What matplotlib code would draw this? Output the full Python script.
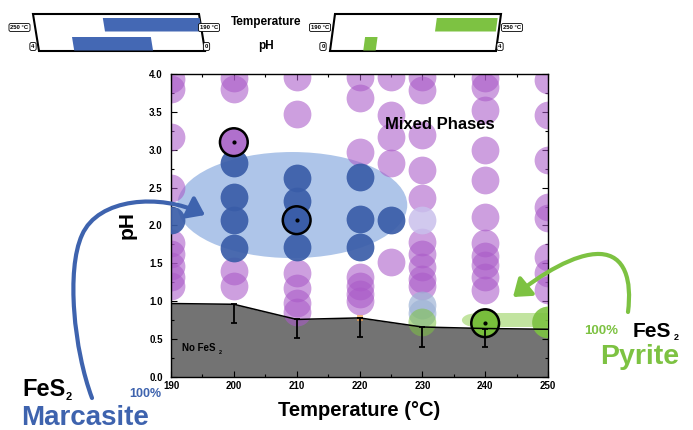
import matplotlib
matplotlib.use("Agg")
import matplotlib.pyplot as plt
from matplotlib.patches import Ellipse, Polygon, Rectangle, FancyArrowPatch
from matplotlib.path import Path

plt.rcParams['font.family'] = ['Liberation Sans', 'DejaVu Sans']
plt.rcParams['font.weight'] = 'bold'
plt.rcParams['axes.labelweight'] = 'bold'

# mixed phase experiments (purple)
mixed_T = [190]*9 + [200]*4 + [210]*6 + [220]*7 + [225]*5 + [230]*10 + [240]*11 + [250]*8
mixed_pH = [3.93, 3.8, 3.17, 2.5, 1.77, 1.62, 1.47, 1.32, 1.2,
            3.95, 3.8, 1.4, 1.2,
            3.96, 3.47, 1.37, 1.17, 0.98, 0.86,
            3.96, 3.68, 2.97, 1.32, 1.2, 1.1, 1.0,
            3.96, 3.46, 3.17, 2.83, 1.52,
            3.96, 3.79, 3.2, 2.73, 2.36, 1.78, 1.62, 1.45, 1.3, 1.2,
            3.95, 3.83, 3.52, 3.0, 2.6, 2.11, 1.77, 1.6, 1.48, 1.32, 1.15,
            3.92, 3.46, 2.86, 2.24, 2.1, 1.58, 1.37, 1.15]

# pure marcasite (blue)
marc_T = [190, 200, 200, 200, 200, 210, 210, 210, 220, 220, 220, 225]
marc_pH = [2.07, 2.82, 2.37, 2.07, 1.7, 2.63, 2.33, 1.72, 2.64, 2.08, 1.72, 2.07]

# pale / minor phases at 230
pale_T = [230]
pale_pH = [2.07]
grey_T = [230, 230]
grey_pH = [0.95, 0.84]

# pyrite (green)
pyr_pts_T = [230, 250]
pyr_pts_pH = [0.72, 0.72]

# highlighted samples
hl_T = [200, 210, 240]
hl_pH = [3.1, 2.07, 0.71]
hl_col = ['#b070cc', '#3a5da8', '#78be3c']

# lower boundary of FeS2 formation
bnd_T = [190, 200, 210, 220, 230, 240, 250]
bnd_pH = [0.97, 0.96, 0.76, 0.78, 0.66, 0.64, 0.63]
err_T = [200, 210, 220, 230, 240]
err_low = [0.71, 0.52, 0.53, 0.40, 0.40]

# ranges shown in the top sketches
marc_Trange = [190, 225]
marc_pHrange = [1.25, 3.15]
pyr_Trange = [227, 249]
pyr_pHrange = [0.8, 1.1]

xticks = [190, 200, 210, 220, 230, 240, 250]
yticks = [0.0, 0.5, 1.0, 1.5, 2.0, 2.5, 3.0, 3.5, 4.0]

BLUE = '#3e63ae'
GREEN = '#7dc242'
PURPLE = '#aa5ac8'
S = 400

fig = plt.figure(figsize=(6.93, 4.30), dpi=100)
ax = fig.add_axes([171/693, 1-377/430, 377/693, 303/430])

ax.add_patch(Ellipse((209.3, 2.27), 36.6, 1.40, fc='#aec5e9', ec='none', zorder=1))
ax.fill_between(bnd_T, 0, bnd_pH, color='#737373', lw=0, zorder=1.2)
ax.add_patch(Rectangle((238.5, 0.66), 14, 0.18, fc='#c2e4a0', ec='none', zorder=1.4))
ax.add_patch(Ellipse((238.5, 0.75), 4.4, 0.18, fc='#c2e4a0', ec='none', zorder=1.4))

ax.scatter(mixed_T, mixed_pH, s=S, c=PURPLE, alpha=0.58, lw=0, zorder=2)
ax.scatter(pale_T, pale_pH, s=S, c='#c9c0ec', alpha=0.85, lw=0, zorder=2.1)
ax.scatter(grey_T, grey_pH, s=S, c='#9fb4d6', alpha=0.7, lw=0, zorder=2.1)
ax.scatter(marc_T, marc_pH, s=S, c='#3a5da8', alpha=0.92, lw=0, zorder=3)
ax.scatter(pyr_pts_T, pyr_pts_pH, s=[S, S*1.3], c=GREEN, alpha=[0.55, 0.9], lw=0, zorder=3)
ax.scatter(hl_T, hl_pH, s=S, c=hl_col, edgecolors='black', lw=1.8, zorder=4)
ax.scatter(hl_T, hl_pH, s=4, c='black', zorder=4.1)
ax.scatter([220], [0.78], s=18, c='#f0a050', alpha=0.7, marker='s', lw=0, zorder=4)

ax.plot(bnd_T, bnd_pH, color='black', lw=1.1, zorder=5)
err_top = [bnd_pH[bnd_T.index(t)] for t in err_T]
ax.errorbar(err_T, err_top, yerr=[[a - b for a, b in zip(err_top, err_low)], [0]*len(err_T)],
            fmt='none', ecolor='black', elinewidth=1.3, capsize=2.5, capthick=1.3, zorder=5)

ax.text(232.8, 3.33, 'Mixed Phases', ha='center', va='center', fontsize=12, zorder=6)

ax.set_xlim(190, 250)
ax.set_ylim(0, 4)
ax.set_xticks(xticks)
ax.set_yticks(yticks)
ax.set_xticks(range(195, 250, 10), minor=True)
ax.set_yticks([0.25 + 0.5*i for i in range(8)], minor=True)
ax.set_yticklabels(['%.1f' % v for v in yticks])
ax.tick_params(which='both', direction='in', top=True, right=True, labelsize=7, width=0.8)
ax.tick_params(which='major', length=4)
ax.tick_params(which='minor', length=2)
ax.tick_params(axis='y', pad=6)
ax.tick_params(axis='x', pad=3)
for sp in ax.spines.values():
    sp.set_linewidth(1.0)
ax.set_xlabel('Temperature (°C)', fontsize=14.5, fontweight='bold', labelpad=7)
ax.set_ylabel('pH', fontsize=15, fontweight='bold', labelpad=9)

# overlay in pixel coordinates for sketches, arrows and labels
ov = fig.add_axes([0, 0, 1, 1], zorder=5)
ov.set_xlim(0, 693)
ov.set_ylim(430, 0)
ov.axis('off')


def edges(box, y):
    xl, xr, y0, y1, shift = box
    f = (y - y0) / (y1 - y0)
    return xl + shift*f, xr + shift*f


def bar(box, row, u0, u1, color):
    pts = []
    for y, u in [(row[0], u0), (row[0], u1), (row[1], u1), (row[1], u0)]:
        l, r = edges(box, y)
        pts.append((l + u*(r - l), y))
    ov.add_patch(Polygon(pts, closed=True, fc=color, ec='none', zorder=2))


def frame(box):
    xl, xr, y0, y1, shift = box
    ov.add_patch(Polygon([(xl, y0), (xr, y0), (xr + shift, y1), (xl + shift, y1)],
                         closed=True, fc='white', ec='black', lw=1.5, zorder=1))


row_T = (18, 31.5)
row_pH = (37, 50.5)
left_box = (33, 199, 14, 51, 6)
right_box = (335, 501, 14, 51, -5)

frame(left_box)
bar(left_box, row_T, (250 - marc_Trange[1])/60, (250 - marc_Trange[0])/60, '#4468b4')
bar(left_box, row_pH, (4 - marc_pHrange[1])/4, (4 - marc_pHrange[0])/4, '#4468b4')
frame(right_box)
bar(right_box, row_T, (pyr_Trange[0] - 190)/60, (pyr_Trange[1] - 190)/60, GREEN)
bar(right_box, row_pH, pyr_pHrange[0]/4, pyr_pHrange[1]/4, GREEN)

tag = dict(boxstyle='round,pad=0.25,rounding_size=0.3', fc='white', ec='black', lw=0.6)
for x, y, s in [(19.5, 27.5, '250 °C'), (33, 46.5, '4'), (209, 27.5, '190 °C'), (206.5, 46.5, '0'),
                (320, 27.5, '190 °C'), (323, 46.5, '0'), (512, 27.5, '250 °C'), (500, 46.5, '4')]:
    ov.text(x, y, s, ha='center', va='center', fontsize=4.2, bbox=tag, zorder=3)
ov.text(266, 22, 'Temperature', ha='center', va='center', fontsize=8.5)
ov.text(266, 46, 'pH', ha='center', va='center', fontsize=8.5)

blue_path = Path([(92, 398), (74, 350), (66, 270), (82, 235),
                  (98, 198), (160, 193), (205, 215)],
                 [Path.MOVETO, Path.CURVE4, Path.CURVE4, Path.CURVE4,
                  Path.CURVE4, Path.CURVE4, Path.CURVE4])
ov.add_patch(FancyArrowPatch(path=blue_path, arrowstyle='-|>,head_length=0.55,head_width=0.4',
                             mutation_scale=18, lw=3, color=BLUE, clip_on=False, zorder=4))
green_path = Path([(628, 312), (632, 280), (625, 255), (600, 254),
                   (575, 253), (540, 275), (513, 297)],
                  [Path.MOVETO, Path.CURVE4, Path.CURVE4, Path.CURVE4,
                   Path.CURVE4, Path.CURVE4, Path.CURVE4])
ov.add_patch(FancyArrowPatch(path=green_path, arrowstyle='-|>,head_length=0.55,head_width=0.4',
                             mutation_scale=18, lw=3, color=GREEN, clip_on=False, zorder=4))

# labels with small, low subscripts
ov.text(182, 351, 'No FeS', ha='left', va='baseline', fontsize=7, zorder=6)
ov.text(218.5, 354, '2', ha='left', va='baseline', fontsize=4, zorder=6)
ov.text(22, 396, 'FeS', ha='left', va='baseline', fontsize=17, color='black')
ov.text(66, 400, '2', ha='left', va='baseline', fontsize=8, color='black')
ov.text(21, 425, 'Marcasite', ha='left', va='baseline', fontsize=20, color=BLUE)
ov.text(145, 397, '100%', ha='center', va='baseline', fontsize=9, color=BLUE)
ov.text(633, 337, 'FeS', ha='left', va='baseline', fontsize=15, color='black')
ov.text(674, 340, '2', ha='left', va='baseline', fontsize=6.5, color='black')
ov.text(600, 364, 'Pyrite', ha='left', va='baseline', fontsize=20.5, color=GREEN)
ov.text(601, 334, '100%', ha='center', va='baseline', fontsize=9.5, color=GREEN)

fig.savefig('out.png', dpi=100)
